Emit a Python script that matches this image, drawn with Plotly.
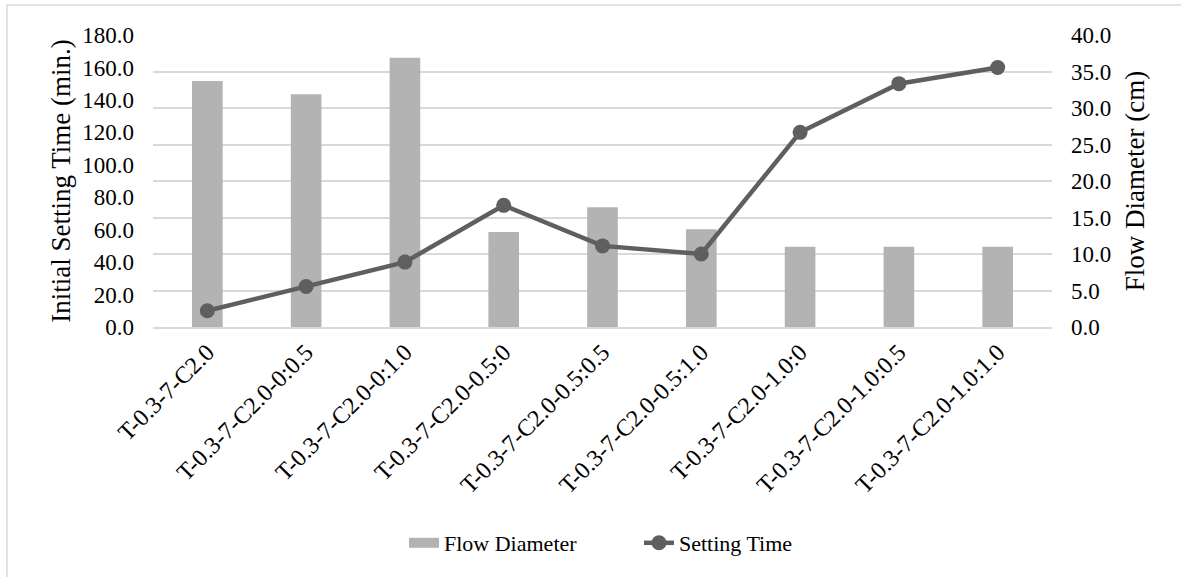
import plotly.graph_objects as go

categories = ["T-0.3-7-C2.0", "T-0.3-7-C2.0-0:0.5", "T-0.3-7-C2.0-0:1.0",
              "T-0.3-7-C2.0-0.5:0", "T-0.3-7-C2.0-0.5:0.5", "T-0.3-7-C2.0-0.5:1.0",
              "T-0.3-7-C2.0-1.0:0", "T-0.3-7-C2.0-1.0:0.5", "T-0.3-7-C2.0-1.0:1.0"]
flow_diameter = [33.7, 31.9, 36.9, 13.0, 16.4, 13.4, 11.0, 11.0, 11.0]
setting_time = [10, 25, 40, 75, 50, 45, 120, 150, 160]

W, H = 1181, 577
L, R, T, B = 153, 129, 35, 250
pw, ph = W - L - R, H - T - B

FONT = "Liberation Serif"
BAR_COLOR = "#b3b3b3"
LINE_COLOR = "#5f5f5f"

fig = go.Figure()
fig.add_trace(go.Bar(x=categories, y=flow_diameter, name="Flow Diameter",
                     marker=dict(color=BAR_COLOR, line=dict(width=0)),
                     width=0.31, yaxis="y", showlegend=False))
# legend entry drawn as a wide bar-like swatch
fig.add_trace(go.Scatter(x=[None], y=[None], name="Flow Diameter", mode="lines",
                         line=dict(color=BAR_COLOR, width=10), yaxis="y"))
fig.add_trace(go.Scatter(x=categories, y=setting_time, name="Setting Time",
                         mode="lines+markers", yaxis="y2",
                         line=dict(color=LINE_COLOR, width=4.5),
                         marker=dict(color=LINE_COLOR, size=15)))

def px2paper_x(px):
    return (px - L) / pw

def px2paper_y(py):
    return (H - B - py) / ph

fig.update_layout(
    width=W, height=H,
    margin=dict(l=L, r=R, t=T, b=B, autoexpand=False),
    paper_bgcolor="white", plot_bgcolor="white",
    font=dict(family=FONT, size=23, color="black"),
    showlegend=True,
    legend=dict(orientation="h", x=px2paper_x(639), y=px2paper_y(543),
                xanchor="center", yanchor="middle",
                font=dict(family=FONT, size=22, color="black"),
                itemwidth=30, traceorder="normal", tracegroupgap=0,
                entrywidth=190, entrywidthmode="pixels"),
    xaxis=dict(type="category", tickangle=-45, showgrid=False,
               showline=True, linecolor="#d9d9d9", linewidth=1.5,
               ticks="", tickfont=dict(family=FONT, size=24, color="black"),
               automargin=False),
    yaxis=dict(side="right", range=[0, 40], dtick=5, tickformat=".1f",
               showgrid=True, gridcolor="#d9d9d9", gridwidth=1.5,
               zeroline=False, showline=False, ticks="",
               ticklabelstandoff=18,
               title=dict(text="Flow Diameter (cm)", standoff=14,
                          font=dict(family=FONT, size=27, color="black")),
               tickfont=dict(family=FONT, size=23, color="black"),
               automargin=False),
    yaxis2=dict(side="left", overlaying="y", range=[0, 180], dtick=20,
                tickformat=".1f", showgrid=False, zeroline=False,
                showline=False, ticks="", ticklabelstandoff=18,
                title=dict(text="Initial Setting Time (min.)", standoff=3,
                           font=dict(family=FONT, size=27, color="black")),
                tickfont=dict(family=FONT, size=23, color="black"),
                automargin=False),
    shapes=[dict(type="rect", xref="paper", yref="paper",
                 x0=px2paper_x(7), x1=px2paper_x(1200),
                 y0=px2paper_y(600), y1=px2paper_y(5),
                 line=dict(color="#d9d9d9", width=1.5), layer="below")],
)

fig.write_html("out.html")
